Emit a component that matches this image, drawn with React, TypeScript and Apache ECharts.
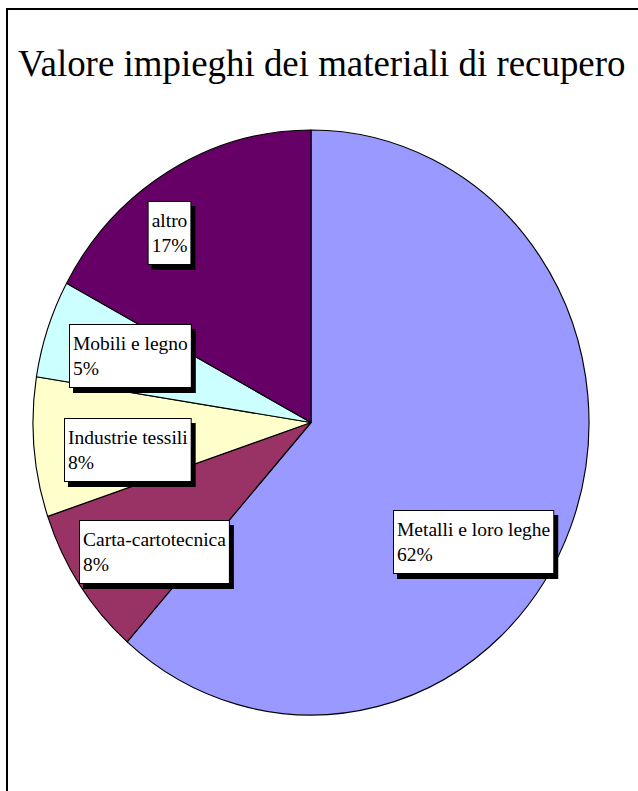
import React, { useEffect, useRef } from "react";
import * as echarts from "echarts";

const TITLE = "Valore impieghi dei materiali di recupero";
const CATEGORIES = [
  "Metalli e loro leghe",
  "Carta-cartotecnica",
  "Industrie tessili",
  "Mobili e legno",
  "altro",
];
const VALUES = [61.5, 8.3, 7.7, 5.4, 17.1];
const COLORS = ["#9999FF", "#993366", "#FFFFCC", "#CCFFFF", "#660066"];

// label box placement (top-left or top-center), layout only
const LABEL_POS = [
  { x: 394, y: 511, align: "left" },
  { x: 80, y: 521, align: "left" },
  { x: 65, y: 419, align: "left" },
  { x: 70, y: 325, align: "left" },
  { x: 169.5, y: 202, align: "center" },
];

const W = 638;
const H = 791;
const CX = 311;
const CY = 422.5;
const RY = 292.5;
const RX = 278;
const FONT = '"Liberation Serif", "Times New Roman", serif';

function buildData(withColor: boolean) {
  return CATEGORIES.map((name, i) => ({
    name,
    value: VALUES[i],
    itemStyle: withColor
      ? { color: COLORS[i] }
      : { color: "rgba(0,0,0,0)", borderWidth: 0 },
    label: { align: LABEL_POS[i].align },
  }));
}

export default function App() {
  const pieRef = useRef<HTMLDivElement>(null);
  const topRef = useRef<HTMLDivElement>(null);

  useEffect(() => {
    const pie = echarts.init(pieRef.current!, undefined, { renderer: "svg" });
    pie.setOption({
      animation: false,
      series: [
        {
          type: "pie",
          center: [CX, CY],
          radius: [0, RY],
          startAngle: 90,
          clockwise: true,
          silent: true,
          avoidLabelOverlap: false,
          label: { show: false },
          labelLine: { show: false },
          itemStyle: { borderColor: "#000", borderWidth: 1.2 },
          data: buildData(true),
        },
      ],
    });

    const top = echarts.init(topRef.current!, undefined, { renderer: "svg" });
    top.setOption({
      animation: false,
      title: {
        text: TITLE,
        left: 18,
        top: 45,
        padding: 0,
        textStyle: {
          fontFamily: FONT,
          fontSize: 36.9,
          fontWeight: "normal",
          color: "#000",
        },
      },
      graphic: [
        {
          type: "rect",
          shape: { x: 7, y: 9, width: 700, height: 900 },
          style: { fill: "none", stroke: "#000", lineWidth: 2 },
          silent: true,
        },
      ],
      series: [
        {
          type: "pie",
          center: [CX, CY],
          radius: [0, RY],
          startAngle: 90,
          clockwise: true,
          silent: true,
          avoidLabelOverlap: false,
          percentPrecision: 0,
          label: {
            show: true,
            formatter: "{b}\n{d}%",
            fontFamily: FONT,
            fontSize: 19.5,
            lineHeight: 25,
            color: "#000",
            backgroundColor: "#fff",
            borderColor: "#000",
            borderWidth: 1,
            padding: [6, 3, 6, 3],
            shadowColor: "#000",
            shadowBlur: 0,
            shadowOffsetX: 4,
            shadowOffsetY: 5,
          },
          labelLine: { show: false },
          labelLayout: (params: any) => {
            const p = LABEL_POS[params.dataIndex];
            return { x: p.x, y: p.y, align: p.align, verticalAlign: "top" };
          },
          data: buildData(false),
        },
      ],
    });

    return () => {
      pie.dispose();
      top.dispose();
    };
  }, []);

  return (
    <div
      style={{
        position: "fixed",
        left: 0,
        top: 0,
        width: W,
        height: H,
        background: "#fff",
        overflow: "hidden",
      }}
    >
      <div
        ref={pieRef}
        style={{
          position: "absolute",
          left: 0,
          top: 0,
          width: W,
          height: H,
          transform: `scaleX(${RX / RY})`,
          transformOrigin: `${CX}px ${CY}px`,
        }}
      />
      <div
        ref={topRef}
        style={{
          position: "absolute",
          left: 0,
          top: 0,
          width: W,
          height: H,
        }}
      />
    </div>
  );
}
